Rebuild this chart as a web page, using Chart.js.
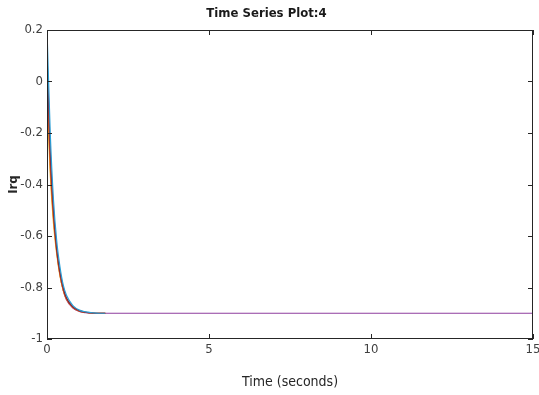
<!DOCTYPE html>
<html>
<head>
<meta charset="utf-8">
<script src="https://cdn.jsdelivr.net/npm/chart.js@4"></script>
<style>
  html, body { margin: 0; padding: 0; background: #fff; }
  #wrap { width: 539px; height: 395px; }
</style>
</head>
<body>
<div id="wrap"><canvas id="chart" width="539" height="395"></canvas></div>
<script>
// sample times (s) for the transient part
const times = [0, 0.1, 0.2, 0.3, 0.4, 0.5, 0.6, 0.8, 1.0, 1.2, 1.4, 1.6, 1.8];
// purple series carries on to the end of the run
const purpleTimes = [0, 0.1, 0.2, 0.3, 0.4, 0.5, 0.6, 0.8, 1.0, 1.2, 1.4, 1.6, 1.8, 15];

const blueValues = [0.2, -0.2, -0.46, -0.62, -0.72, -0.79, -0.83, -0.87, -0.888, -0.895, -0.898, -0.9, -0.9];
const darkRedValues = [0.11, -0.27, -0.5, -0.65, -0.74, -0.8, -0.84, -0.875, -0.89, -0.896, -0.899, -0.9, -0.9];
const orangeValues = [0.0, -0.33, -0.53, -0.66, -0.75, -0.81, -0.845, -0.878, -0.892, -0.897, -0.899, -0.9, -0.9];
const yellowValues = [-0.05, -0.36, -0.55, -0.67, -0.755, -0.81, -0.845, -0.876, -0.89, -0.896, -0.899, -0.9, -0.9];
const purpleValues = [0.05, -0.3, -0.52, -0.66, -0.75, -0.81, -0.848, -0.88, -0.893, -0.898, -0.9, -0.9, -0.9, -0.9];

const xTicks = [0, 5, 10, 15];
const yTicks = [-1, -0.8, -0.6, -0.4, -0.2, 0, 0.2];

const toPoints = (xs, ys) => xs.map((x, i) => ({ x: x, y: ys[i] }));

const series = [
  { label: "blue", color: "#2a9fd6", xs: times, ys: blueValues },
  { label: "dark red", color: "#7a1f3a", xs: times, ys: darkRedValues },
  { label: "orange", color: "#d95319", xs: times, ys: orangeValues },
  { label: "yellow", color: "#edb120", xs: times, ys: yellowValues },
  { label: "purple", color: "#8e3f9e", xs: purpleTimes, ys: purpleValues },
];

// box round the plot with inward ticks, like MATLAB
const boxPlugin = {
  id: "box",
  afterDraw(chart) {
    const { ctx, chartArea: a, scales } = chart;
    ctx.save();
    ctx.strokeStyle = "#262626";
    ctx.lineWidth = 1;
    ctx.strokeRect(a.left + 0.5, a.top + 0.5, a.right - a.left - 1, a.bottom - a.top - 1);
    ctx.beginPath();
    xTicks.forEach((v) => {
      const px = Math.round(scales.x.getPixelForValue(v)) + 0.5;
      ctx.moveTo(px, a.bottom); ctx.lineTo(px, a.bottom - 5);
      ctx.moveTo(px, a.top); ctx.lineTo(px, a.top + 5);
    });
    yTicks.forEach((v) => {
      const py = Math.round(scales.y.getPixelForValue(v)) + 0.5;
      ctx.moveTo(a.left, py); ctx.lineTo(a.left + 5, py);
      ctx.moveTo(a.right, py); ctx.lineTo(a.right - 5, py);
    });
    ctx.stroke();
    ctx.restore();
  },
};

const font = "'DejaVu Sans Condensed', 'Liberation Sans', Arial, sans-serif";

new Chart(document.getElementById("chart"), {
  type: "scatter",
  data: {
    datasets: series.map((s) => ({
      label: s.label,
      data: toPoints(s.xs, s.ys),
      showLine: true,
      borderColor: s.color,
      backgroundColor: s.color,
      borderWidth: 1.2,
      pointRadius: 0,
      tension: 0.4,
      cubicInterpolationMode: "monotone",
    })),
  },
  plugins: [boxPlugin],
  options: {
    responsive: false,
    animation: false,
    layout: { padding: { right: 6, top: 0, bottom: 4 } },
    plugins: {
      legend: { display: false },
      tooltip: { enabled: false },
      title: {
        display: true,
        text: "Time Series Plot:4",
        color: "#1a1a1a",
        font: { family: font, size: 13, weight: "bold" },
        padding: { top: 6, bottom: 8.4 },
      },
    },
    scales: {
      x: {
        type: "linear",
        min: 0,
        max: 15,
        afterBuildTicks: (scale) => { scale.ticks = xTicks.map((v) => ({ value: v })); },
        afterFit: (scale) => {
          scale.height = 52;
          scale.paddingLeft = 0;
          scale.paddingRight = 0;
        },
        grid: { display: false, drawTicks: false },
        border: { display: false },
        ticks: { color: "#404040", padding: 3, font: { family: font, size: 13 } },
        title: {
          display: true,
          text: "Time (seconds)",
          color: "#262626",
          font: { family: font, size: 14 },
          padding: { top: 10, bottom: 0 },
        },
      },
      y: {
        type: "linear",
        min: -1,
        max: 0.2,
        afterBuildTicks: (scale) => { scale.ticks = yTicks.map((v) => ({ value: v })); },
        afterFit: (scale) => { scale.width = 47; },
        grid: { display: false, drawTicks: false },
        border: { display: false },
        ticks: {
          color: "#404040",
          padding: 4,
          font: { family: font, size: 13 },
          callback: (v) => String(Number(v.toFixed(1))),
        },
        title: {
          display: true,
          text: "Irq",
          color: "#262626",
          font: { family: font, size: 13, weight: "bold" },
          padding: { top: 6, bottom: 0 },
        },
      },
    },
  },
});
</script>
</body>
</html>
